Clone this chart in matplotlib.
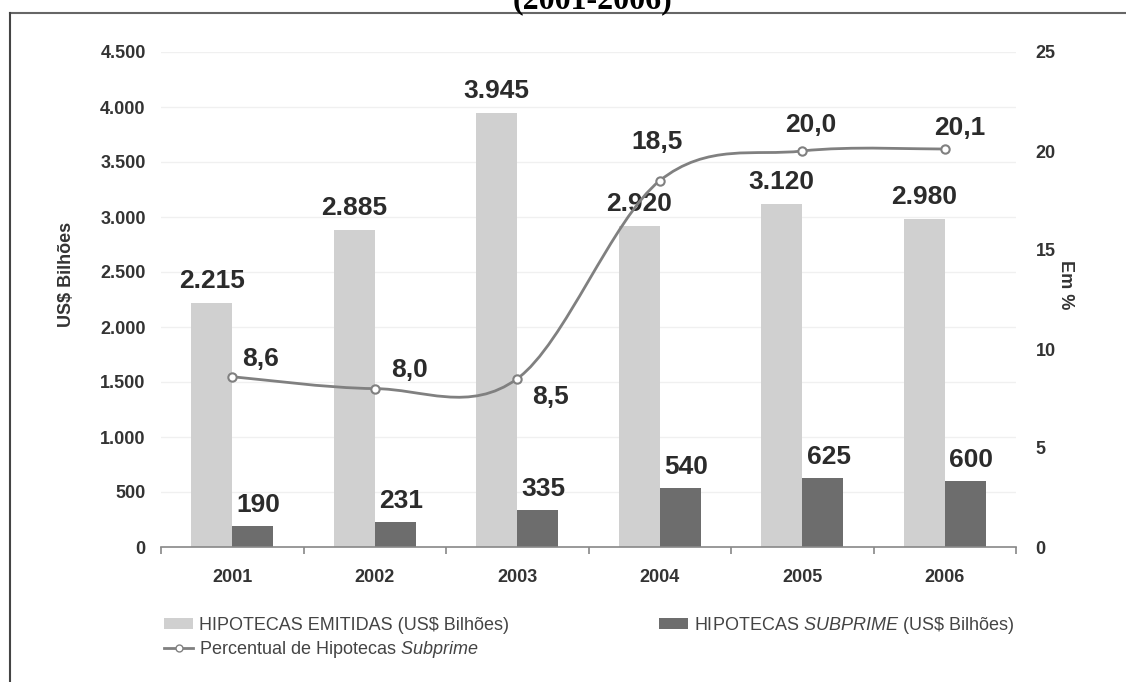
import numpy as np
import matplotlib
matplotlib.use('Agg')
import matplotlib.pyplot as plt
from matplotlib.path import Path
from matplotlib.patches import PathPatch, Patch
from matplotlib.lines import Line2D

plt.rcParams['font.family'] = ['Liberation Sans', 'DejaVu Sans']
plt.rcParams['mathtext.fontset'] = 'custom'
plt.rcParams['mathtext.rm'] = 'Liberation Sans'
plt.rcParams['mathtext.it'] = 'Liberation Sans:italic'

# data
years = ['2001', '2002', '2003', '2004', '2005', '2006']
emitidas = [2215, 2885, 3945, 2920, 3120, 2980]
subprime = [190, 231, 335, 540, 625, 600]
percentual = [8.6, 8.0, 8.5, 18.5, 20.0, 20.1]

emitidas_txt = ['2.215', '2.885', '3.945', '2.920', '3.120', '2.980']
subprime_txt = ['190', '231', '335', '540', '625', '600']
percentual_txt = ['8,6', '8,0', '8,5', '18,5', '20,0', '20,1']
left_ticks = [0, 500, 1000, 1500, 2000, 2500, 3000, 3500, 4000, 4500]
left_tick_txt = ['0', '500', '1.000', '1.500', '2.000', '2.500', '3.000', '3.500', '4.000', '4.500']
right_ticks = [0, 5, 10, 15, 20, 25]

# label offsets for the percent values (pixels)
pct_offsets = [(28, 11), (35, 12), (33, -25), (-3, 32), (8, 19), (15, 14)]

light = '#d0d0d0'
dark = '#6d6d6d'
linec = '#808080'
txtc = '#2b2b2b'

W, H = 1126, 682
fig = plt.figure(figsize=(W / 100, H / 100), dpi=100)
fig.patch.set_facecolor('white')

x0, x1 = 161, 1016
y0, y1 = 547, 52
ax = fig.add_axes([x0 / W, 1 - y0 / H, (x1 - x0) / W, (y0 - y1) / H])
ax2 = ax.twinx()

x = np.arange(len(years))
bw = 0.288
ax.bar(x - bw / 2, emitidas, bw, color=light, zorder=2)
ax.bar(x + bw / 2, subprime, bw, color=dark, zorder=2)

for i in range(len(years)):
    ax.annotate(emitidas_txt[i], (x[i] - bw / 2, emitidas[i]), xytext=(0, 15),
                textcoords='offset pixels', ha='center', va='baseline',
                fontsize=19, fontweight='bold', color=txtc)
    ax.annotate(subprime_txt[i], (x[i] + bw / 2, subprime[i]), xytext=(6, 14),
                textcoords='offset pixels', ha='center', va='baseline',
                fontsize=19, fontweight='bold', color=txtc)

ax.set_xlim(-0.5, len(years) - 0.5)
ax.set_ylim(0, 4500)
ax.set_yticks(left_ticks)
ax.set_yticklabels(left_tick_txt)
ax.set_xticks(x)
ax.set_xticklabels(years)
ax.set_xticks(np.arange(len(years) + 1) - 0.5, minor=True)
ax.tick_params(axis='x', which='major', length=0, pad=16, labelsize=13, labelcolor='#333333')
ax.tick_params(axis='x', which='minor', length=5, width=1.2, color='#888888', direction='out')
ax.tick_params(axis='y', length=0, pad=11, labelsize=13, labelcolor='#333333')
for lab in ax.get_xticklabels() + ax.get_yticklabels():
    lab.set_fontweight('bold')
ax.yaxis.grid(True, color='#f0f0f0', lw=1)
ax.set_axisbelow(True)
for s in ['top', 'left', 'right']:
    ax.spines[s].set_visible(False)
ax.spines['bottom'].set_color('#888888')
ax.spines['bottom'].set_linewidth(1.2)
ax.set_ylabel('US$ Bilhões', fontsize=13, fontweight='bold', color='#333333')
ax.yaxis.set_label_coords(-0.101, 0.55)

# smoothed percent line (bezier through the points)
pts = np.column_stack([x, percentual]).astype(float)
n = len(pts)
verts = [pts[0]]
codes = [Path.MOVETO]
for i in range(n - 1):
    p_prev = pts[i - 1] if i > 0 else pts[i]
    p_next = pts[i + 2] if i + 2 < n else pts[i + 1]
    c1 = pts[i] + (pts[i + 1] - p_prev) / 6
    c2 = pts[i + 1] - (p_next - pts[i]) / 6
    verts += [c1, c2, pts[i + 1]]
    codes += [Path.CURVE4] * 3
ax2.add_patch(PathPatch(Path(verts, codes), fill=False, edgecolor=linec, lw=2, zorder=3))
ax2.plot(x, percentual, 'o', ls='none', ms=6, mfc='white', mec=linec, mew=1.5, zorder=4)

for i in range(n):
    ax2.annotate(percentual_txt[i], (x[i], percentual[i]), xytext=pct_offsets[i],
                 textcoords='offset pixels', ha='center', va='baseline',
                 fontsize=19, fontweight='bold', color=txtc)

ax2.set_ylim(0, 25)
ax2.set_yticks(right_ticks)
ax2.tick_params(axis='y', length=0, pad=14, labelsize=13, labelcolor='#333333')
for lab in ax2.get_yticklabels():
    lab.set_fontweight('bold')
for s in ax2.spines.values():
    s.set_visible(False)
ax2.set_ylabel('Em %', fontsize=13, fontweight='bold', color='#333333', rotation=270)
ax2.yaxis.set_label_coords(1.068, 0.53)

# legend
handles = [Patch(facecolor=light, edgecolor='none'),
           Line2D([], [], color=linec, lw=2, marker='o', ms=5, mfc='white', mec=linec),
           Patch(facecolor=dark, edgecolor='none')]
labels = ['HIPOTECAS EMITIDAS (US\\$ Bilhões)',
          'Percentual de Hipotecas $\\mathit{Subprime}$',
          'HIPOTECAS $\\mathit{SUBPRIME}$ (US\\$ Bilhões)']
fig.legend(handles, labels, ncol=2, loc='upper left', bbox_to_anchor=(148 / W, 1 - 599 / H),
           frameon=False, fontsize=13, handlelength=1.6, handleheight=0.55,
           handletextpad=0.33, columnspacing=8.3, labelspacing=0.25, labelcolor='#444444')

# title, cut off at the top like in the source
fig.text(592 / W, 1 - 8 / H, '(2001-2006)', ha='center', va='baseline',
         fontfamily='Liberation Serif', fontweight='bold', fontsize=23, color='black')

# frame
fig.add_artist(Line2D([10 / W, 1], [1 - 13 / H, 1 - 13 / H], color='#666666', lw=1.5))
fig.add_artist(Line2D([10 / W, 10 / W], [0, 1 - 13 / H], color='#444444', lw=1.5))

fig.savefig('out.png', dpi=100)
